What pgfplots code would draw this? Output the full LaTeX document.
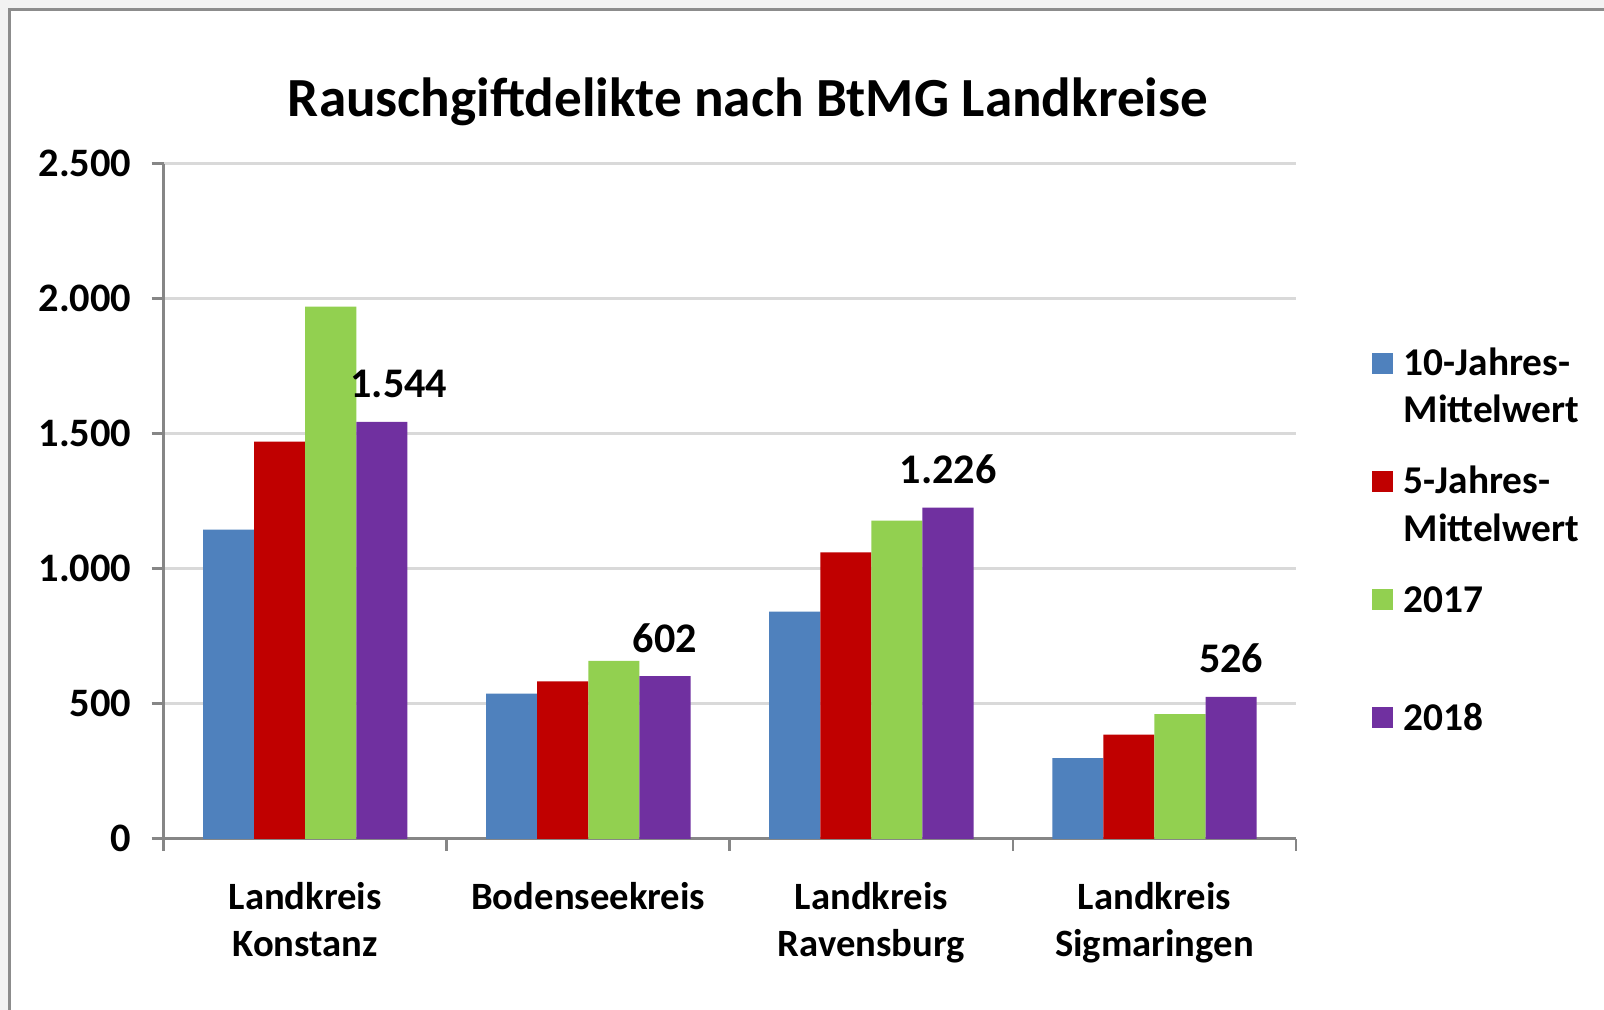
\documentclass[border=0pt]{standalone}
\usepackage{fontspec}
\setmainfont{Carlito}
\usepackage{pgfplots}
\usepackage{pgfplotstable}
\pgfplotsset{compat=1.18}
\definecolor{c1}{HTML}{4F81BD}
\definecolor{c2}{HTML}{C00000}
\definecolor{c3}{HTML}{92D050}
\definecolor{c4}{HTML}{7030A0}
\definecolor{gridc}{HTML}{D9D9D9}
\definecolor{axc}{HTML}{868686}
\definecolor{bgc}{HTML}{F2F2F2}
\definecolor{framec}{HTML}{8C8C8C}

\pgfplotstableread{
x y
0 1145
1 538
2 841
3 299
}\zehnj
\pgfplotstableread{
x y
0 1471
1 583
2 1061
3 386
}\fuenfj
\pgfplotstableread{
x y
0 1971
1 659
2 1178
3 462
}\jahrA
\pgfplotstableread{
x y dx
0 1544 0.17
1 602 0
2 1226 0
3 526 0
}\jahrB

\pgfplotsset{
  sq/.style={legend image code/.code={\fill[##1] (0cm,0.02cm) rectangle (0.21cm,0.23cm);}}
}

\begin{document}
\begin{tikzpicture}
\path[use as bounding box] (0,0) rectangle (16.04,-10.10);
\clip (0,0) rectangle (16.04,-10.10);
\fill[bgc] (0,0) rectangle (16.04,-10.10);
\fill[white,draw=framec,line width=0.6pt] (0.095,-0.095) rectangle (16.6,-10.6);
\begin{axis}[
  at={(1.637cm,-8.388cm)}, anchor=south west,
  scale only axis, width=11.323cm, height=6.751cm,
  xmin=-0.5, xmax=3.5, ymin=0, ymax=2500,
  ytick={0,500,1000,1500,2000,2500},
  scaled y ticks=false,
  /pgf/number format/.cd, 1000 sep={.}, assume math mode=true, /pgfplots/.cd,
  axis lines*=left,
  axis line style={axc, line width=0.8pt},
  ymajorgrids, major grid style={gridc, line width=0.85pt},
  tick align=outside, major tick length=0.12cm,
  tick style={axc, line width=0.8pt},
  xtick={-0.5,0.5,1.5,2.5,3.5}, xticklabels={},
  extra x ticks={0,1,2,3},
  extra x tick labels={{Landkreis\\Konstanz},{Bodenseekreis},{Landkreis\\Ravensburg},{Landkreis\\Sigmaringen}},
  extra x tick style={major tick length=0pt, grid=none},
  xticklabel style={font=\fontsize{11}{13.4}\selectfont\bfseries, align=center, anchor=north, yshift=-0.31cm},
  yticklabel style={font=\fontsize{11.5}{13.8}\selectfont\bfseries, xshift=-0.08cm},
  title={Rauschgiftdelikte nach BtMG Landkreise},
  title style={at={(0.516,1)}, anchor=base, yshift=0.257cm, inner sep=0pt, font=\fontsize{15.7}{19}\selectfont\bfseries},
  legend style={at={(1.0662,0.7359)}, anchor=north west, draw=none, fill=none, inner sep=0pt,
    row sep=0.80cm, column sep=0.11cm, cells={anchor=base west},
    font=\fontsize{11.2}{13.4}\selectfont\bfseries, nodes={inner sep=0pt}},
]
\addplot[ybar, bar width=0.511cm, bar shift=-0.7665cm, fill=c1, draw=none, sq] table[x=x,y=y] {\zehnj};
\addlegendentry{\begin{tabular}[t]{@{}l@{}}10-Jahres-\\Mittelwert\end{tabular}}
\addplot[ybar, bar width=0.511cm, bar shift=-0.2555cm, fill=c2, draw=none, sq] table[x=x,y=y] {\fuenfj};
\addlegendentry{\begin{tabular}[t]{@{}l@{}}5-Jahres-\\Mittelwert\end{tabular}}
\addplot[ybar, bar width=0.511cm, bar shift=0.2555cm, fill=c3, draw=none, sq] table[x=x,y=y] {\jahrA};
\addlegendentry{\begin{tabular}[t]{@{}l@{}}2017\\\mbox{}\end{tabular}}
\addplot[ybar, bar width=0.511cm, bar shift=0.7665cm, fill=c4, draw=none, sq,
  point meta=y, nodes near coords,
  visualization depends on={\thisrow{dx} \as \dx},
  nodes near coords style={font=\fontsize{12}{14}\selectfont\bfseries, text=black, anchor=base, inner sep=0pt, yshift=0.24cm, xshift={0.7665cm+\dx cm}}]
  table[x=x,y=y] {\jahrB};
\addlegendentry{\begin{tabular}[t]{@{}l@{}}2018\\\mbox{}\end{tabular}}
\end{axis}
\end{tikzpicture}
\end{document}
